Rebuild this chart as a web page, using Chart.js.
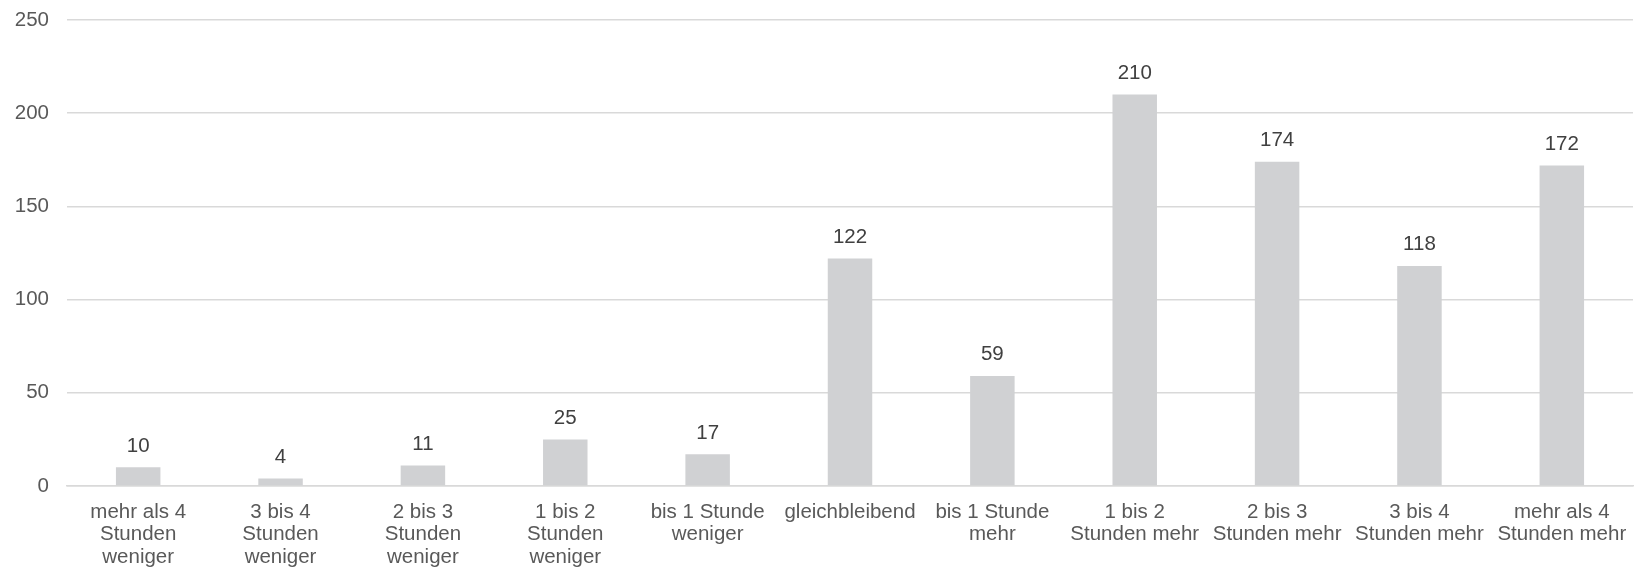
<!DOCTYPE html>
<html>
<head>
<meta charset="utf-8">
<script src="https://cdn.jsdelivr.net/npm/chart.js@4/dist/chart.umd.min.js"></script>
<style>
  html, body { margin: 0; padding: 0; background: #fff; }
  #wrap { width: 1646px; height: 569px; }
</style>
</head>
<body>
<div id="wrap"><canvas id="myChart" width="1646" height="569"></canvas></div>
<script>
const categories = [
  ["mehr als 4", "Stunden", "weniger"],
  ["3 bis 4", "Stunden", "weniger"],
  ["2 bis 3", "Stunden", "weniger"],
  ["1 bis 2", "Stunden", "weniger"],
  ["bis 1 Stunde", "weniger"],
  "gleichbleibend",
  ["bis 1 Stunde", "mehr"],
  ["1 bis 2", "Stunden mehr"],
  ["2 bis 3", "Stunden mehr"],
  ["3 bis 4", "Stunden mehr"],
  ["mehr als 4", "Stunden mehr"],
];
const values = [10, 4, 11, 25, 17, 122, 59, 210, 174, 118, 172];
const yTicks = [0, 50, 100, 150, 200, 250];

const fontFamily = "'Liberation Sans', Arial, sans-serif";

// draw the number above each bar
const valueLabels = {
  id: "valueLabels",
  afterDatasetsDraw(chart) {
    const ctx = chart.ctx;
    const meta = chart.getDatasetMeta(0);
    ctx.save();
    ctx.font = "20.5px " + fontFamily;
    ctx.fillStyle = "#404040";
    ctx.textAlign = "center";
    ctx.textBaseline = "bottom";
    meta.data.forEach((bar, i) => {
      ctx.fillText(String(values[i]), bar.x, bar.y - 11);
    });
    ctx.restore();
  },
};

const ctx = document.getElementById("myChart");

new Chart(ctx, {
  type: "bar",
  data: {
    labels: categories,
    datasets: [
      {
        label: "Anzahl",
        data: values,
        backgroundColor: "#D0D1D3",
        borderWidth: 0,
        barPercentage: 0.5,
        categoryPercentage: 0.625,
      },
    ],
  },
  options: {
    responsive: false,
    animation: false,
    layout: {
      padding: { top: 20, left: 13, right: 13, bottom: 0 },
    },
    plugins: {
      legend: { display: false },
      tooltip: { enabled: false },
    },
    scales: {
      x: {
        grid: { display: false, drawTicks: false },
        border: { color: "#D9D9D9", width: 1.5 },
        afterFit(axis) {
          axis.height = 83;
          axis.paddingLeft = 0;
          axis.paddingRight = 0;
        },
        ticks: {
          autoSkip: false,
          maxRotation: 0,
          padding: 14.5,
          color: "#595959",
          font: { family: fontFamily, size: 20.5, lineHeight: 1.11 },
        },
      },
      y: {
        min: 0,
        max: 250,
        afterBuildTicks(axis) {
          axis.ticks = yTicks.map((v) => ({ value: v }));
        },
        afterFit(axis) {
          axis.width = 54;
          axis.paddingTop = 0;
          axis.paddingBottom = 0;
        },
        grid: { color: "#D9D9D9", lineWidth: 1.5, drawTicks: false },
        border: { display: false },
        ticks: {
          padding: 18,
          color: "#595959",
          font: { family: fontFamily, size: 20.5 },
        },
      },
    },
  },
  plugins: [valueLabels],
});
</script>
</body>
</html>
